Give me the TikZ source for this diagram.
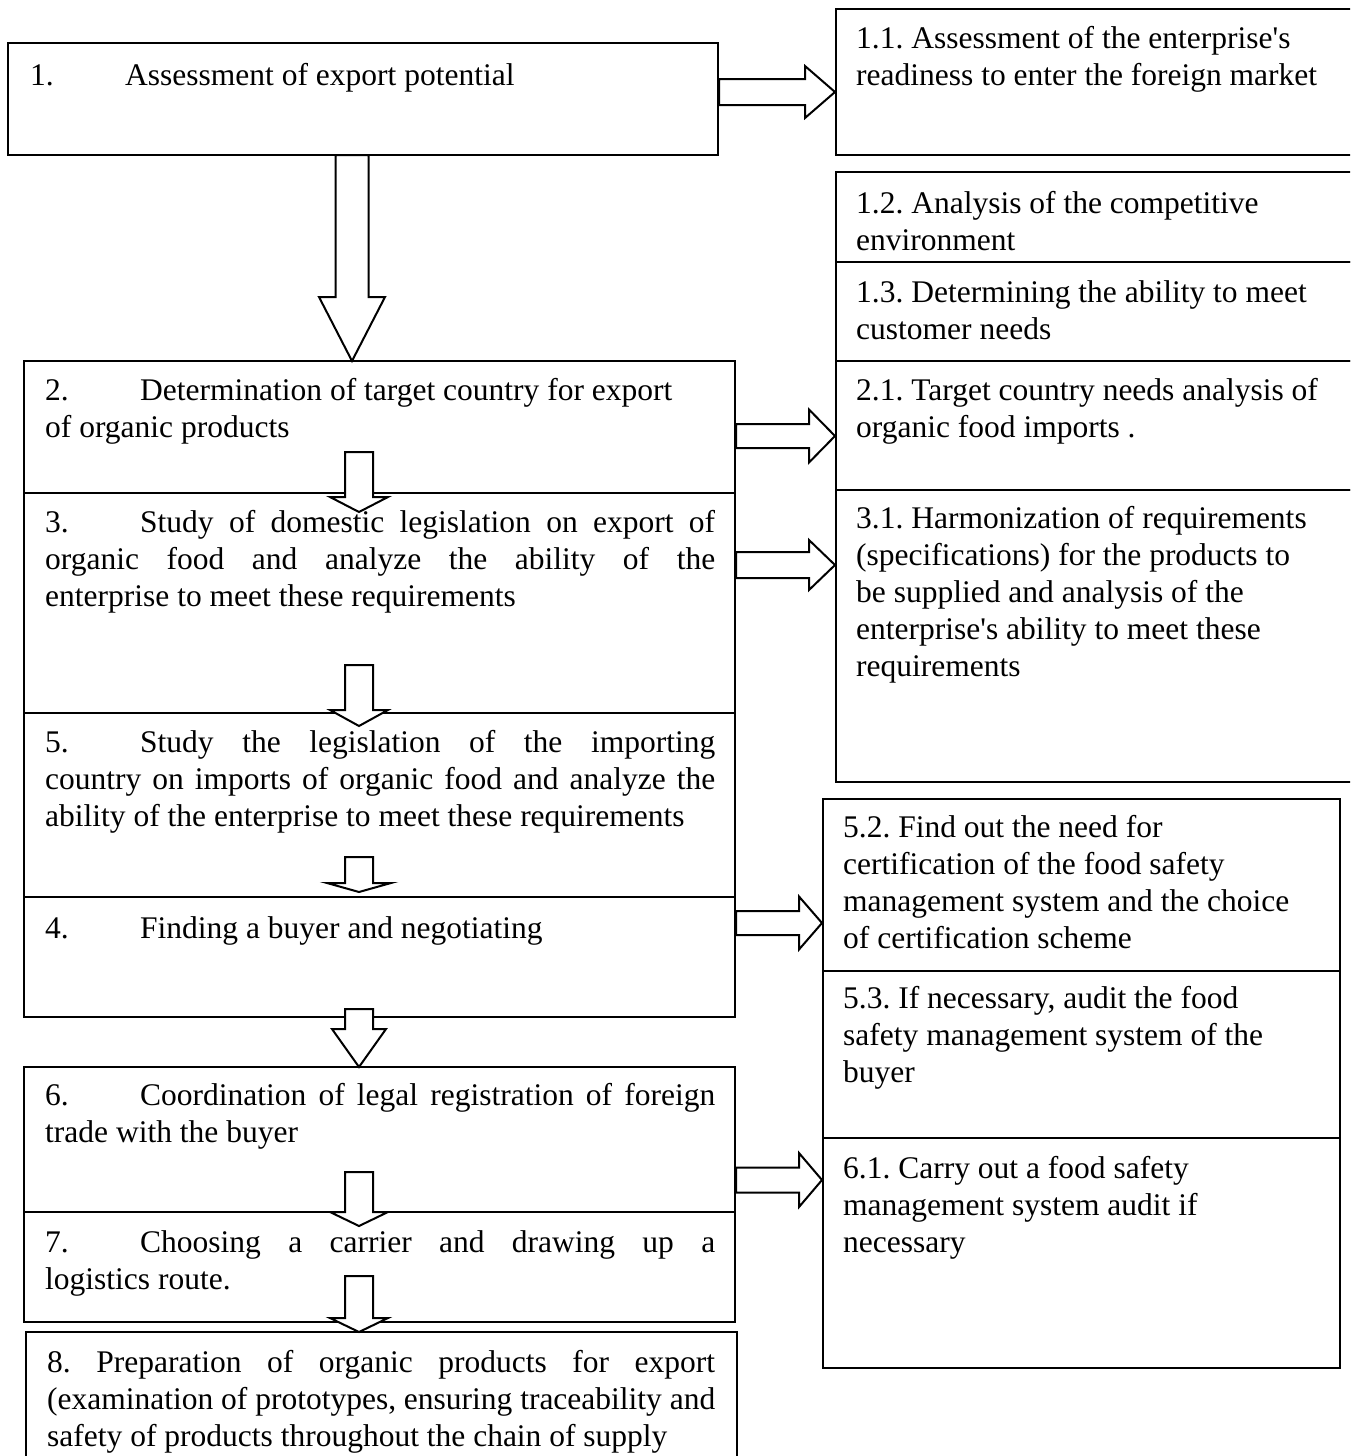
\documentclass[tikz,border=0pt]{standalone}
\usepackage{fontspec}
\setmainfont{Liberation Serif}
\usetikzlibrary{fit,calc}
\frenchspacing
\newcommand\tabnum[1]{\makebox[95pt][l]{#1}}
\newcommand\jline[1]{\makebox[670pt][s]{#1}}
% down block arrow: x centre, y top, y head base, y tip, shaft half width, head half width
\newcommand\DArrow[6]{%
  \draw[barrow] ({#1-#5},#2) -- ({#1+#5},#2) -- ({#1+#5},#3) -- ({#1+#6},#3) -- (#1,#4)
    -- ({#1-#6},#3) -- ({#1-#5},#3) -- cycle;}
% right block arrow: from node, to node, y centre, shaft half, head half, head length
\newcommand\RArrow[6]{%
  \path (#1.east |- 0,#3) coordinate (s) (#2.west |- 0,#3) coordinate (t);
  \draw[barrow] ($(s)+(0,-#4)$) -- ($(t)+(-#6,-#4)$) -- ($(t)+(-#6,-#5)$) -- (t)
    -- ($(t)+(-#6,#5)$) -- ($(t)+(-#6,#4)$) -- ($(s)+(0,#4)$) -- cycle;}
\begin{document}
\frenchspacing
\begin{tikzpicture}[x=1pt,y=-1pt,
  box/.style={draw, line width=2pt, inner sep=0pt},
  txt/.style={anchor=base west, inner sep=0pt, font=\fontsize{31.5}{37}\selectfont\frenchspacing},
  barrow/.style={draw, fill=white, line width=2pt, line join=miter}]
\clip (0,0) rectangle (1350,1456);
\fill[white] (0,0) rectangle (1350,1456);

% left column boxes
\node[box, fit={(8,43) (718,155)}] (b1) {};
\node[box, fit={(24,361) (735,493)}] (b2) {};
\node[box, fit={(24,493) (735,713)}] (b3) {};
\node[box, fit={(24,713) (735,897)}] (b5) {};
\node[box, fit={(24,897) (735,1017)}] (b4) {};
\node[box, fit={(24,1067) (735,1212)}] (b6) {};
\node[box, fit={(24,1212) (735,1322)}] (b7) {};
\node[box, fit={(26,1332) (737,1470)}] (b8) {};

% right column boxes
\node[box, fit={(836,9) (1365,155)}] (r11) {};
\node[box, fit={(836,172) (1365,262)}] (r12) {};
\node[box, fit={(836,262) (1365,361)}] (r13) {};
\node[box, fit={(836,361) (1365,490)}] (r21) {};
\node[box, fit={(836,490) (1365,782)}] (r31) {};
\node[box, fit={(823,799) (1340,971)}] (r52) {};
\node[box, fit={(823,971) (1340,1138)}] (r53) {};
\node[box, fit={(823,1138) (1340,1368)}] (r61) {};

% down arrows
\DArrow{352}{155}{297}{361}{16.5}{33}
\DArrow{359}{452}{497}{512}{14}{29}
\DArrow{359}{665}{710}{726}{14}{29}
\DArrow{359}{857}{883}{892}{14}{32}
\DArrow{359}{1009}{1029}{1067}{14}{27}
\DArrow{359}{1172}{1212}{1226}{14}{29}
\DArrow{359}{1276}{1318}{1332}{14}{29}

% right arrows
\RArrow{b1}{r11}{92}{13}{26}{30}
\RArrow{b2}{r21}{436}{12}{26.5}{26}
\RArrow{b3}{r31}{565}{13}{25}{26}
\RArrow{b4}{r52}{923}{12}{26.5}{23}
\RArrow{b6}{r61}{1180}{12.5}{27}{23}

% texts, left
\node[txt] (t1) at (30,85) {\parbox[t]{690pt}{\tabnum{1.}Assessment of export potential}};
\node[txt] (t2) at (45,400) {\parbox[t]{690pt}{\raggedright
  \tabnum{2.}Determination of target country for export\\
  of organic products}};
\node[txt] (t3) at (45,532) {\parbox[t]{690pt}{\raggedright
  \jline{\tabnum{3.}Study of domestic legislation on export of}\\
  \jline{organic food and analyze the ability of the}\\
  enterprise to meet these requirements}};
\node[txt] (t5) at (45,752) {\parbox[t]{690pt}{\raggedright
  \jline{\tabnum{5.}Study the legislation of the importing}\\
  \jline{country on imports of organic food and analyze the}\\
  ability of the enterprise to meet these requirements}};
\node[txt] (t4) at (45,938) {\parbox[t]{690pt}{\tabnum{4.}Finding a buyer and negotiating}};
\node[txt] (t6) at (45,1105) {\parbox[t]{690pt}{\raggedright
  \jline{\tabnum{6.}Coordination of legal registration of foreign}\\
  trade with the buyer}};
\node[txt] (t7) at (45,1252) {\parbox[t]{690pt}{\raggedright
  \jline{\tabnum{7.}Choosing a carrier and drawing up a}\\
  logistics route.}};
\node[txt] (t8) at (47,1372) {\parbox[t]{690pt}{\raggedright
  \makebox[668pt][s]{8. Preparation of organic products for export}\\
  \makebox[668pt][s]{(examination of prototypes, ensuring traceability and}\\
  safety of products throughout the chain of supply}};

% texts, right
\node[txt] (u11) at (856,48) {\parbox[t]{490pt}{\raggedright
  1.1. Assessment of the enterprise\textquotesingle s\\
  readiness to enter the foreign market}};
\node[txt] (u12) at (856,213) {\parbox[t]{490pt}{\raggedright
  1.2. Analysis of the competitive\\
  environment}};
\node[txt] (u13) at (856,302) {\parbox[t]{490pt}{\raggedright
  1.3. Determining the ability to meet\\
  customer needs}};
\node[txt] (u21) at (856,400) {\parbox[t]{490pt}{\raggedright
  2.1. Target country needs analysis of\\
  organic food imports .}};
\node[txt] (u31) at (856,528) {\parbox[t]{490pt}{\raggedright
  3.1. Harmonization of requirements\\
  (specifications) for the products to\\
  be supplied and analysis of the\\
  enterprise\textquotesingle s ability to meet these\\
  requirements}};
\node[txt] (u52) at (843,837) {\parbox[t]{495pt}{\raggedright
  5.2. Find out the need for\\
  certification of the food safety\\
  management system and the choice\\
  of certification scheme}};
\node[txt] (u53) at (843,1008) {\parbox[t]{495pt}{\raggedright
  5.3. If necessary, audit the food\\
  safety management system of the\\
  buyer}};
\node[txt] (u61) at (843,1178) {\parbox[t]{495pt}{\raggedright
  6.1. Carry out a food safety\\
  management system audit if\\
  necessary}};
\end{tikzpicture}
\end{document}
